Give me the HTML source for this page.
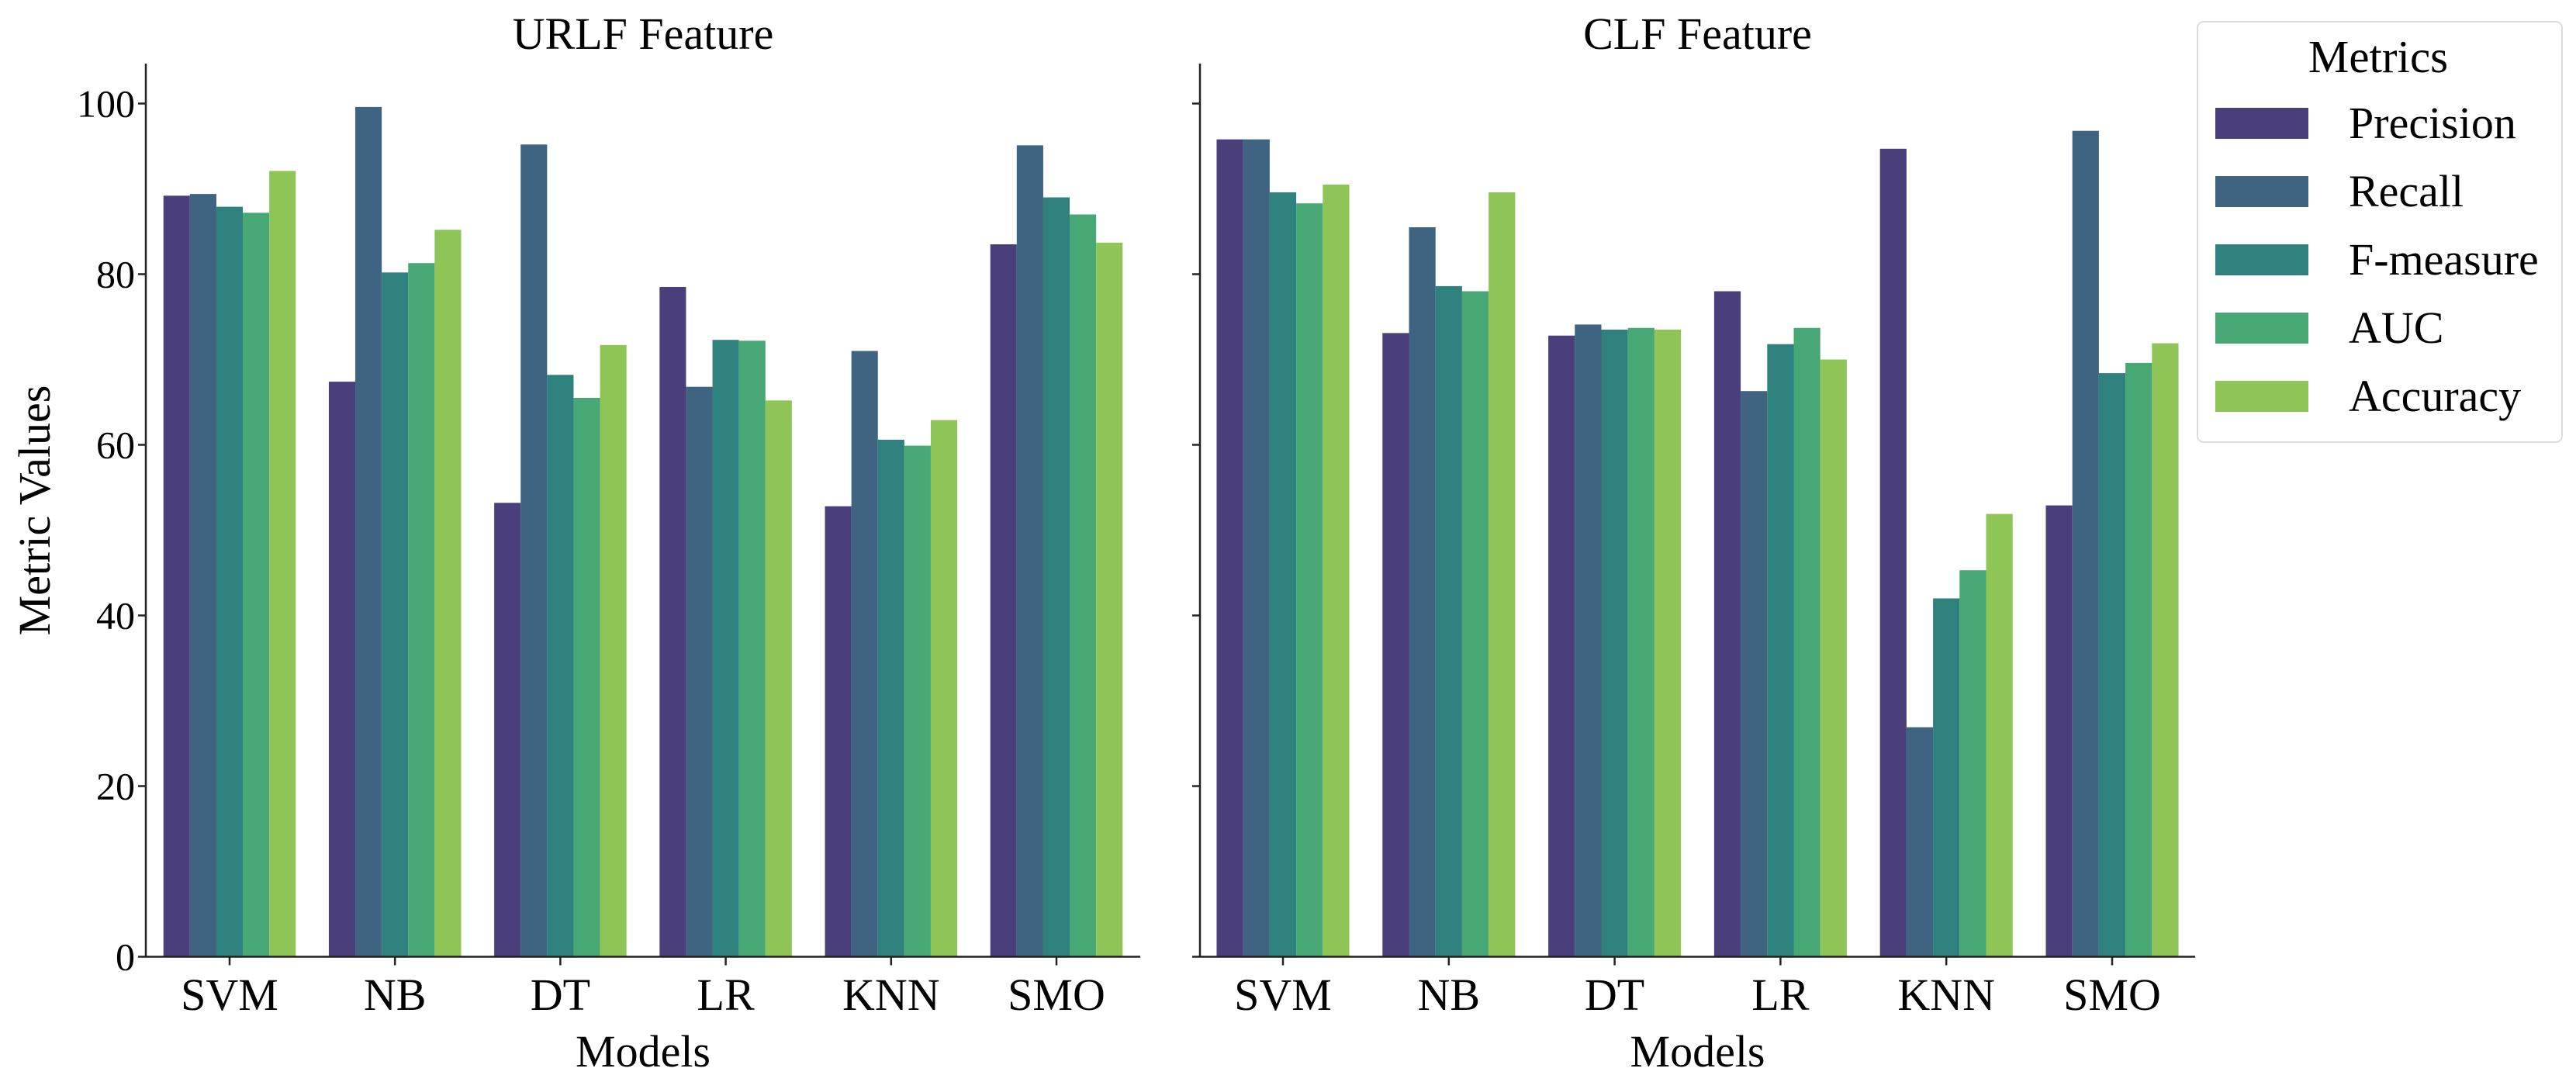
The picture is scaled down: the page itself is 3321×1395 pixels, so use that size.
<!DOCTYPE html>
<html><head><meta charset="utf-8"><style>
html,body{margin:0;padding:0;background:#fff;}
svg{display:block;font-family:"Liberation Serif",serif;}
</style></head><body>
<svg id="chart" width="3321" height="1395" viewBox="0 0 3321 1395" xmlns="http://www.w3.org/2000/svg">
<g id="plots"></g>
<g id="legend">
<rect x="2833" y="28" width="470" height="542" rx="8" fill="#fff" stroke="#ddd" stroke-width="2"/>
<text x="3066" y="93" font-size="59" text-anchor="middle">Metrics</text>
</g>
</svg>
<script>
const models = ["SVM","NB","DT","LR","KNN","SMO"];
const metrics = ["Precision","Recall","F-measure","AUC","Accuracy"];
const colors = ["#4b3f7b","#3e6481","#2e817c","#47a875","#8ec556"];
const yTicks = [0,20,40,60,80,100];
const urlfPrecision = [89.2,67.4,53.2,78.5,52.8,83.5];
const urlfRecall    = [89.4,99.6,95.2,66.8,71.0,95.1];
const urlfFmeasure  = [87.9,80.2,68.2,72.3,60.6,89.0];
const urlfAUC       = [87.2,81.3,65.5,72.2,59.9,87.0];
const urlfAccuracy  = [92.1,85.2,71.7,65.2,62.9,83.7];
const clfPrecision = [95.8,73.1,72.8,78.0,94.7,52.9];
const clfRecall    = [95.8,85.5,74.1,66.3,26.9,96.8];
const clfFmeasure  = [89.6,78.6,73.5,71.8,42.0,68.4];
const clfAUC       = [88.3,78.0,73.7,73.7,45.3,69.6];
const clfAccuracy  = [90.5,89.6,73.5,70.0,51.9,71.9];

const NS="http://www.w3.org/2000/svg";
function mk(tag,attrs,parent,text){const e=document.createElementNS(NS,tag);for(const k in attrs)e.setAttribute(k,attrs[k]);if(text!==undefined)e.textContent=text;parent.appendChild(e);return e;}
const plots=document.getElementById('plots');
const y0=1233.5, yTop=133.5;
function yS(v){return y0-(y0-yTop)*v/100;}
const panels=[
 {name:"urlf",title:"URLF Feature",axisX:188,right:1470,first:296,step:213.2,labels:true,series:[urlfPrecision,urlfRecall,urlfFmeasure,urlfAUC,urlfAccuracy]},
 {name:"clf",title:"CLF Feature",axisX:1547,right:2830,first:1654,step:213.8,labels:false,series:[clfPrecision,clfRecall,clfFmeasure,clfAUC,clfAccuracy]}
];
panels.forEach(p=>{
 const g=mk('g',{},plots);
 
 
 function xS(i){return p.first+i*p.step;}
 const bw=p.step*0.8/5;
 p.series.forEach((arr,m)=>{
  arr.forEach((v,i)=>{
   const x=xS(i)-p.step*0.4+m*bw;
   const r=mk('rect',{x:x,y:yS(v),width:bw,height:y0-yS(v),fill:colors[m]},g);
   
   
  });
 });
 const ax=mk('line',{x1:p.axisX,y1:82,x2:p.axisX,y2:y0+1,stroke:'#222','stroke-width':2.5},g);
 
 
 const bx=mk('line',{x1:p.axisX-1,y1:y0,x2:p.right,y2:y0,stroke:'#222','stroke-width':2.5},g);
 
 
 yTicks.forEach(t=>{
  mk('line',{x1:p.axisX-10,y1:yS(t),x2:p.axisX,y2:yS(t),stroke:'#222','stroke-width':2.5},g);
  if(p.labels){
   const tl=mk('text',{x:p.axisX-14,y:yS(t)+17,'font-size':50,'text-anchor':'end'},g,String(t));
   
   
  }
 });
 models.forEach((m,i)=>{
  mk('line',{x1:xS(i),y1:y0,x2:xS(i),y2:y0+11,stroke:'#222','stroke-width':2.5},g);
  const tl=mk('text',{x:xS(i),y:1302,'font-size':58,'text-anchor':'middle'},g,m);
  
  
 });
 const cx=(p.axisX+p.right)/2;
 const tt=mk('text',{x:cx,y:63,'font-size':58,'text-anchor':'middle'},g,p.title);
 
 
 const xl=mk('text',{x:cx,y:1375,'font-size':58,'text-anchor':'middle'},g,'Models');
 
 
});
const yl=mk('text',{x:0,y:0,'font-size':58,'text-anchor':'middle',transform:'translate(64,658) rotate(-90)'},plots,'Metric Values');


const leg=document.getElementById('legend');
metrics.forEach((m,k)=>{
 const cy=159+k*88;
 const r=mk('rect',{x:2856,y:cy-20,width:120,height:40,fill:colors[k]},leg);
 
 
 const t=mk('text',{x:3028,y:cy+19,'font-size':58},leg,m);
 
 
});
</script>
</body></html>
